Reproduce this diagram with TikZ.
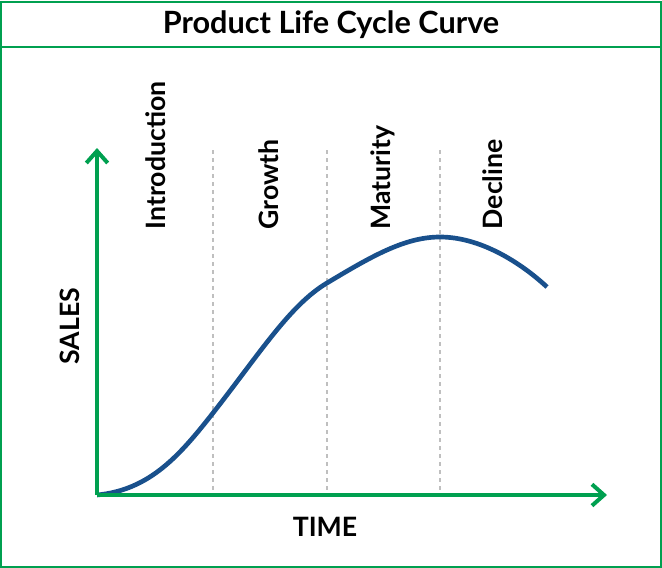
\documentclass[tikz,border=0pt]{standalone}
\usepackage{fontspec}
\setmainfont{Lato}
\usetikzlibrary{arrows.meta}
\definecolor{grn}{RGB}{0,160,80}
\definecolor{blu}{RGB}{25,80,140}
\begin{document}
\begin{tikzpicture}[x=0.75pt,y=-0.75pt,
 ax/.style={grn,line width=3pt,-{Straight Barb[length=9pt,width=16pt,line width=3pt]}},
 gdash/.style={gray!50,dashed,line width=0.8pt},
 lab/.style={rotate=90,anchor=west,font=\bfseries\fontsize{20}{22}\selectfont}]
\useasboundingbox (0,0) rectangle (662,568);
\draw[grn,line width=1.5pt] (1.5,1.5) rectangle (660.5,566.5);
\draw[grn,line width=1.5pt] (1.5,47) -- (660.5,47);
\node[font=\bfseries\fontsize{23}{26}\selectfont] (title) at (331,25) {Product Life Cycle Curve};
\coordinate (o) at (97,495);
\coordinate (yt) at (97,148);
\coordinate (xt) at (607,495);
\foreach \x/\n in {213/a,327/b,440/c}{
 \coordinate (\n1) at (\x,150); \coordinate (\n2) at (\x,495);
 \draw[gdash] (\n1) -- (\n2);}
\node[lab] (l1) at (156,234) {Introduction};
\node[lab] (l2) at (269,234) {Growth};
\node[lab] (l3) at (383,234) {Maturity};
\node[lab] (l4) at (493,234) {Decline};
\node[rotate=90,font=\bfseries\fontsize{20}{22}\selectfont] (sales) at (70,326) {SALES};
\node[font=\bfseries\fontsize{20}{22}\selectfont] (time) at (325,527) {TIME};
\draw[blu,line width=3.5pt] (97,495) .. controls (150,490) and (180,455) .. (213,413)
 .. controls (260,353) and (290,305) .. (327,283)
 .. controls (372,256) and (405,237) .. (440,237)
 .. controls (480,237) and (520,262) .. (547,287);
\draw[ax] (o) -- (yt);
\draw[ax] (o) -- (xt);
\end{tikzpicture}
\end{document}
